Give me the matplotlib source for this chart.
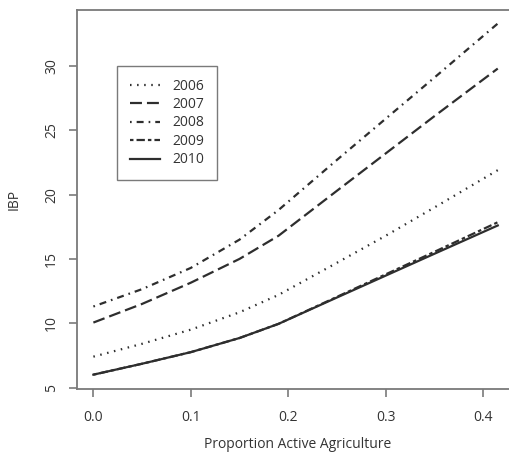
import numpy as np
import matplotlib
matplotlib.use('Agg')
import matplotlib.pyplot as plt

plt.rcParams['font.family'] = ['Open Sans', 'DejaVu Sans']
plt.rcParams['font.size'] = 10
plt.rcParams['lines.scale_dashes'] = False

############################################
# data
prop = [0.0, 0.05, 0.10, 0.15, 0.19, 0.25, 0.30, 0.35, 0.415]
ibp_2006 = [7.4, 8.4, 9.5, 10.85, 12.2, 14.7, 16.8, 19.0, 21.9]
ibp_2007 = [10.05, 11.5, 13.15, 15.0, 16.8, 20.3, 23.2, 26.1, 29.8]
ibp_2008 = [11.3, 12.65, 14.3, 16.5, 18.8, 22.7, 25.9, 29.1, 33.3]
ibp_2009 = [6.0, 6.85, 7.75, 8.85, 9.95, 12.05, 13.8, 15.55, 17.85]
ibp_2010 = [6.0, 6.85, 7.75, 8.85, 9.95, 12.0, 13.7, 15.4, 17.6]
years = ['2006', '2007', '2008', '2009', '2010']

series = [ibp_2006, ibp_2007, ibp_2008, ibp_2009, ibp_2010]
# R-like line types, in points
styles = [(0, (1.1, 4.0)),
          (0, (8.6, 3.6)),
          (0, (1.2, 3.6, 5.0, 3.6)),
          (0, (2.5, 2.2, 6.0, 2.2)),
          'solid']

linec = '#2e2e2e'
boxc = '#7a7a7a'
textc = '#333333'

fig = plt.figure(figsize=(5.09, 4.63), dpi=100)
W, H = 509., 463.
ax = fig.add_axes([77/W, (H-388.7)/H, 442/W, 379.2/H])

x = np.array(prop)
for y, ls, lab in zip(series, styles, years):
    ax.plot(x, y, color=linec, lw=1.6, linestyle=ls, label=lab,
            dash_capstyle='butt')

# R style 4% padding
xmin, xmax = 0.0, 0.42
ymin = min(min(s) for s in series)
ymax = max(max(s) for s in series)
ax.set_xlim(xmin-0.04*(xmax-xmin), xmax+0.04*(xmax-xmin))
ax.set_ylim(ymin-0.04*(ymax-ymin), ymax+0.04*(ymax-ymin))

ax.set_xticks([0.0, 0.1, 0.2, 0.3, 0.4])
ax.set_xticklabels(['0.0', '0.1', '0.2', '0.3', '0.4'])
ax.set_yticks([5, 10, 15, 20, 25, 30])
ax.set_yticklabels(['5', '10', '15', '20', '25', '30'], rotation=90,
                   va='center')
ax.tick_params(direction='out', length=6, width=1.2, color=boxc,
               labelcolor=textc, labelsize=10)
ax.tick_params(axis='x', pad=9)
ax.tick_params(axis='y', pad=7)
for sp in ax.spines.values():
    sp.set_color(boxc)
    sp.set_linewidth(1.3)

ax.set_xlabel('Proportion Active Agriculture', color=textc, fontsize=10,
              labelpad=9)
ax.set_ylabel('IBP', color=textc, fontsize=10, labelpad=16)

leg = ax.legend(loc='upper left', bbox_to_anchor=(0.0905, 0.851),
                borderaxespad=0, fancybox=False, framealpha=1,
                handlelength=2.2, handletextpad=0.9, labelspacing=0.25,
                borderpad=0.9, fontsize=10)
leg.get_frame().set_edgecolor(boxc)
leg.get_frame().set_linewidth(1.0)
for t in leg.get_texts():
    t.set_color(textc)

plt.savefig('out.png', dpi=100)
